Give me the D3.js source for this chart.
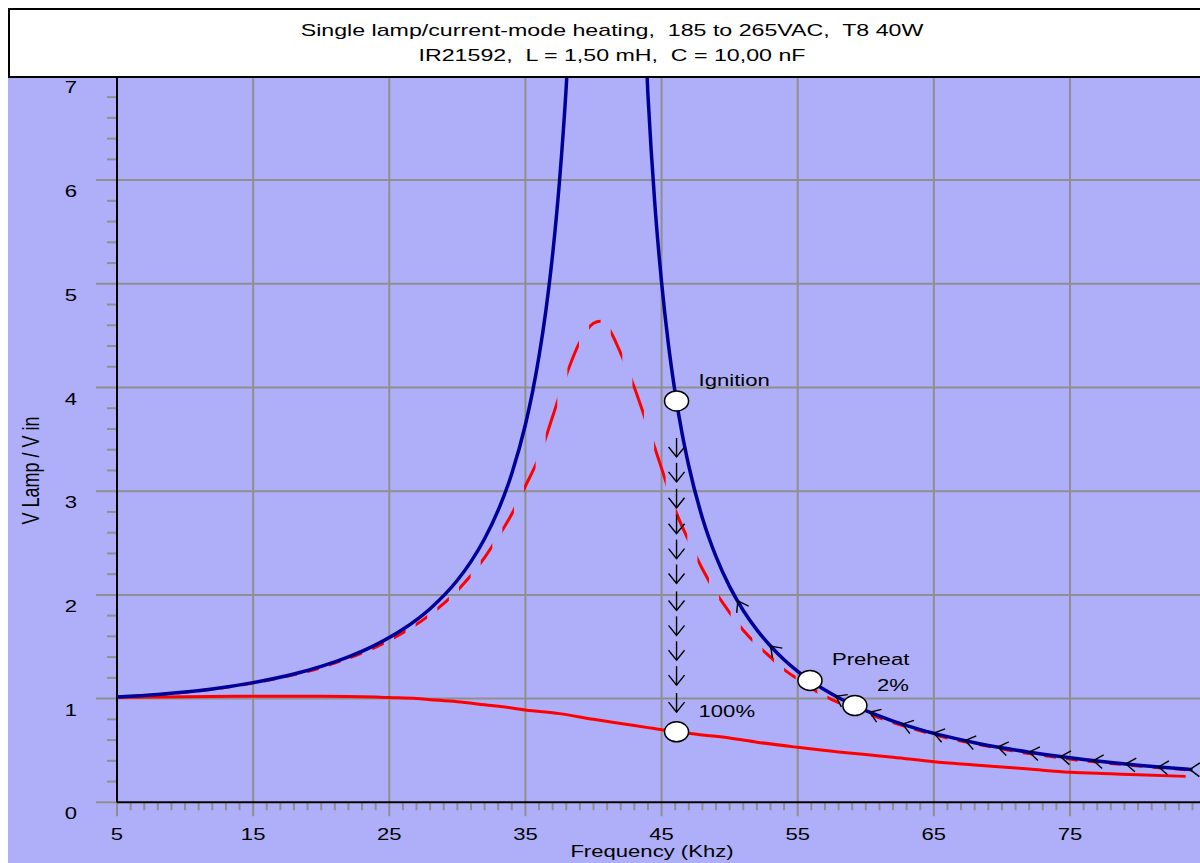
<!DOCTYPE html>
<html><head><meta charset="utf-8">
<script src="https://cdn.jsdelivr.net/npm/d3@7"></script>
<style>
body{margin:0;background:#fff}
svg{display:block}
text{font-family:"Liberation Sans",Arial,sans-serif;fill:#000;white-space:pre}
</style>
</head><body>
<svg id="c" width="1200" height="863"></svg>
<script>
// ---------------- data ----------------
const titleLines = ["Single lamp/current-mode heating,  185 to 265VAC,  T8 40W",
                    "IR21592,  L = 1,50 mH,  C = 10,00 nF"];
const xTickValues = [5, 15, 25, 35, 45, 55, 65, 75];
const yTickValues = [0, 1, 2, 3, 4, 5, 6, 7];
const xLabel = "Frequency (Khz)";
const yLabel = "V Lamp / V in";

// unloaded resonance (blue)
const blueFreq = [5,8,10,12,15,18,20,22,24,26,28,30,31,32,33,34,35,35.5,36,36.5,37,37.5,38,38.2,
                  43.8,44,44.5,45,45.5,46,46.5,47,48,49,50,51,52,53,54,55,56,57,58,60,62,64,66,68,70,72,74,76,78,80,82,84];
const blueVal  = [1.015,1.039,1.063,1.093,1.154,1.237,1.310,1.402,1.518,1.668,1.867,2.141,2.321,2.541,2.817,3.171,3.643,3.943,4.303,4.741,5.286,5.985,6.906,7.37,
                  7.34,6.82,5.78,5.015,4.42,3.948,3.562,3.243,2.742,2.369,2.080,1.850,1.663,1.507,1.375,1.263,1.166,1.082,1.008,0.883,0.783,0.701,0.633,0.575,0.526,0.483,0.446,0.413,0.384,0.358,0.335,0.315];

// preheat curve (red dashed)
const dashFreq = [5,10,15,20,25,28,30,32,33,34,35,36,37,38,39,40,40.5,41,42,43,44,45,46,47,48,49,50,51,52,53,54,55,56,58,60,62,64,66,68,70,72,74,76,78,80,82,83.5];
const dashVal  = [1.015,1.06,1.15,1.30,1.56,1.81,2.04,2.36,2.56,2.78,3.05,3.33,3.72,4.12,4.44,4.62,4.64,4.59,4.33,4.00,3.62,3.22,2.82,2.52,2.25,2.02,1.83,1.66,1.52,1.40,1.28,1.19,1.10,0.96,0.86,0.77,0.69,0.62,0.565,0.515,0.47,0.435,0.40,0.375,0.35,0.33,0.315];

// running lamp curve (red solid)
const solidFreq = [5,8,10,15,20,24,25,27,28,30,32,34,35,37.5,40,42,44,45,46.1,48,50,52,55,58,60,62,65,68,70,72,75,78,80,83.5];
const solidVal  = [1.01,1.015,1.018,1.022,1.022,1.015,1.01,1.0,0.99,0.97,0.94,0.91,0.89,0.855,0.80,0.76,0.72,0.70,0.68,0.65,0.62,0.58,0.53,0.485,0.46,0.435,0.39,0.36,0.34,0.32,0.29,0.275,0.265,0.25];

const markers = [
  {label: "Ignition", f: 46.1, curve: "blue"},
  {label: "100%",     f: 46.1, curve: "solid"},
  {label: "Preheat",  f: 55.9, curve: "blue"},
  {label: "2%",       f: 59.2, curve: "blue"}
];
const sweepDownFreq = 46.1;
const sweepDownTips = [3.33, 3.09, 2.84, 2.59, 2.35, 2.11, 1.85, 1.61, 1.37, 1.13, 0.87];
const sweepLeftFreq = [50.6, 53.0, 55.4, 57.8, 60.3, 62.7, 65.0, 67.3, 69.7, 72.0, 74.3, 76.7, 79.1, 81.5, 83.8];

// ---------------- layout ----------------
const W = 1200, H = 863;
const SX = 1.3;         // horizontal glyph stretch
const plotLeft = 117, plotRight = 1200, plotTop = 77, plotBottom = 802.3;
const x = d3.scaleLinear().domain([5, 75]).range([117, 1070]);
const y = d3.scaleLinear().domain([0, 7]).range([802.3, 76.4]);

const BG = "#afaff9", GRID = "#8f8f8f", BLUE = "#000099", RED = "#ff0000";

const svg = d3.select("#c");
const defs = svg.append("defs");
defs.append("clipPath").attr("id", "plotClip").append("rect")
  .attr("x", plotLeft).attr("y", plotTop).attr("width", plotRight - plotLeft).attr("height", plotBottom - plotTop);

svg.append("rect").attr("x", 0).attr("y", 0).attr("width", W).attr("height", H).attr("fill", "#fff");
svg.append("rect").attr("x", 8).attr("y", 60).attr("width", W - 8).attr("height", H - 60).attr("fill", BG);

function stext(g, px, py, str, size, anchor, sx) {
  return g.append("text")
    .attr("transform", `translate(${px},${py}) scale(${sx || SX},1)`)
    .attr("text-anchor", anchor || "middle")
    .style("font-size", size + "px")
    .text(str);
}

// grid + ticks
const grid = svg.append("g").attr("stroke", GRID).attr("stroke-width", 2);
xTickValues.forEach(v => {
  grid.append("line").attr("x1", x(v)).attr("x2", x(v))
    .attr("y1", v === 5 ? plotBottom : plotTop).attr("y2", plotBottom + 14);
});
yTickValues.forEach(v => {
  grid.append("line").attr("x1", 96).attr("x2", v === 0 ? plotLeft : plotRight)
    .attr("y1", y(v)).attr("y2", y(v));
});
const minorX = d3.range(6, 85, 1).filter(v => (v - 5) % 10 !== 0);
minorX.forEach(v => {
  grid.append("line").attr("x1", x(v)).attr("x2", x(v)).attr("y1", plotBottom).attr("y2", plotBottom + 8);
});
const minorY = d3.range(0.2, 7, 0.2).filter(v => Math.abs(v - Math.round(v)) > 0.01);
minorY.forEach(v => {
  grid.append("line").attr("x1", 107).attr("x2", plotLeft).attr("y1", y(v)).attr("y2", y(v));
});

// axes lines
svg.append("line").attr("x1", plotLeft).attr("x2", plotRight).attr("y1", plotBottom).attr("y2", plotBottom)
  .attr("stroke", "#000").attr("stroke-width", 2);
svg.append("line").attr("x1", plotLeft).attr("x2", plotLeft).attr("y1", plotTop).attr("y2", plotBottom)
  .attr("stroke", "#000").attr("stroke-width", 2);

// tick labels
const labels = svg.append("g");
xTickValues.forEach(v => stext(labels, x(v), 840, String(v), 17, "middle"));
yTickValues.forEach(v => stext(labels, 71, y(v) + 17, String(v), 17, "middle"));
stext(labels, 652, 857, xLabel, 17, "middle");
labels.append("text")
  .attr("transform", `translate(39,${y(3.2)}) scale(${SX},1) rotate(-90)`)
  .attr("text-anchor", "middle").style("font-size", "18px").text(yLabel);

// curves
const plot = svg.append("g").attr("clip-path", "url(#plotClip)");
const line = d3.line().x(d => x(d[0])).y(d => y(d[1])).curve(d3.curveMonotoneX);
const blueData = d3.zip(blueFreq, blueVal);
const dashData = d3.zip(dashFreq, dashVal);
const solidData = d3.zip(solidFreq, solidVal);

plot.append("path").attr("d", line(solidData)).attr("fill", "none").attr("stroke", RED).attr("stroke-width", 3);

// dashes defined along frequency
const dashPhase = 4.65, dashPeriod = 1.592, dashLen = 0.85;
const dclip = defs.append("clipPath").attr("id", "dashClip");
for (let s = dashPhase; s < 84; s += dashPeriod) {
  const a = Math.max(s, 5), b = Math.min(s + dashLen, 83.5);
  if (b <= a) continue;
  dclip.append("rect").attr("x", x(a)).attr("y", 0).attr("width", x(b) - x(a)).attr("height", H);
}
plot.append("g").attr("clip-path", "url(#dashClip)")
  .append("path").attr("d", line(dashData)).attr("fill", "none").attr("stroke", RED).attr("stroke-width", 3);

plot.append("path").attr("d", line(blueData)).attr("fill", "none").attr("stroke", BLUE).attr("stroke-width", 3.5);

// interpolators
const blueAt = d3.scaleLinear().domain(blueFreq.slice(24)).range(blueVal.slice(24));
const solidAt = d3.scaleLinear().domain(solidFreq).range(solidVal);

// down sweep arrows
const arr = svg.append("g").attr("stroke", "#000").attr("stroke-width", 1.4).attr("fill", "none");
sweepDownTips.forEach(v => {
  const px = x(sweepDownFreq), py = y(v);
  arr.append("line").attr("x1", px).attr("x2", px).attr("y1", py - 19).attr("y2", py);
  arr.append("path").attr("d", `M${px - 8},${py - 10}L${px},${py}L${px + 8},${py - 10}`);
});

// left sweep arrows along blue curve
const ang = 35 * Math.PI / 180, bl = 12;
sweepLeftFreq.forEach(f => {
  const px = x(f), py = y(blueAt(f));
  const qx = x(f + 0.4), qy = y(blueAt(Math.min(f + 0.4, 84)));
  let dx = qx - px, dy = qy - py; const n = Math.hypot(dx, dy); dx /= n; dy /= n;
  const r = (a) => [dx * Math.cos(a) - dy * Math.sin(a), dx * Math.sin(a) + dy * Math.cos(a)];
  const [ax, ay] = r(ang), [bx, by] = r(-ang);
  arr.append("path").attr("d", `M${px + ax * bl},${py + ay * bl}L${px},${py}L${px + bx * bl},${py + by * bl}`);
});

// markers
const mg = svg.append("g");
markers.forEach(m => {
  const v = m.curve === "blue" ? blueAt(m.f) : solidAt(m.f);
  const px = x(m.f), py = y(v);
  mg.append("ellipse").attr("cx", px).attr("cy", py).attr("rx", 12).attr("ry", 10)
    .attr("fill", "#fff").attr("stroke", "#000").attr("stroke-width", 1.5);
  stext(mg, px + 22, py - 15, m.label, 17, "start");
});

// title box
svg.append("rect").attr("x", 9).attr("y", 9).attr("width", W + 10).attr("height", 68)
  .attr("fill", "#fff").attr("stroke", "#000").attr("stroke-width", 2);
stext(svg, 612, 36, titleLines[0], 16, "middle", 1.45);
stext(svg, 612, 61, titleLines[1], 16, "middle", 1.45);
</script>
</body></html>
